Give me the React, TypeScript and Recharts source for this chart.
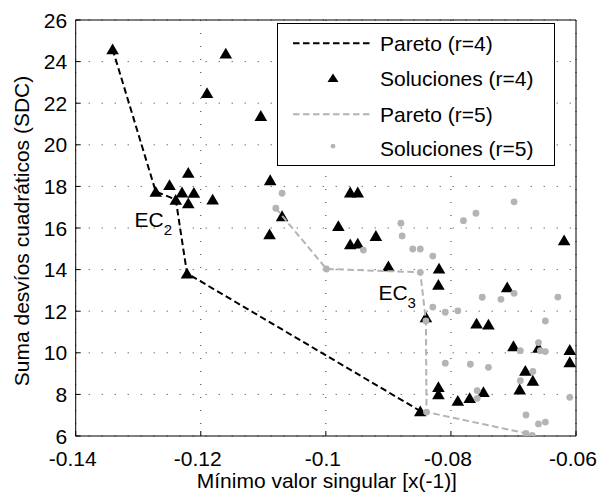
import React from 'react';
import { ScatterChart, Scatter, XAxis, YAxis, CartesianGrid, ReferenceDot } from 'recharts';

const FONT = "'Liberation Sans', Arial, Helvetica, sans-serif";

const xTicks = [-0.14, -0.12, -0.1, -0.08, -0.06];
const yTicks = [6, 8, 10, 12, 14, 16, 18, 20, 22, 24, 26];
const xLabel = 'Mínimo valor singular [x(-1)]';
const yLabel = 'Suma desvíos cuadráticos (SDC)';
const legendLabels = ['Pareto (r=4)', 'Soluciones (r=4)', 'Pareto (r=5)', 'Soluciones (r=5)'];

const paretoR4 = [
  { x: -0.1341, y: 24.6 },
  { x: -0.1272, y: 17.75 },
  { x: -0.124, y: 17.37 },
  { x: -0.1222, y: 13.82 },
  { x: -0.0849, y: 7.2 },
];

const solutionsR4 = [
  { x: -0.1341, y: 24.6 }, { x: -0.116, y: 24.4 }, { x: -0.119, y: 22.5 }, { x: -0.1104, y: 21.4 },
  { x: -0.122, y: 18.66 }, { x: -0.1272, y: 17.75 }, { x: -0.125, y: 18.08 }, { x: -0.123, y: 17.72 },
  { x: -0.1211, y: 17.7 }, { x: -0.124, y: 17.37 }, { x: -0.122, y: 17.2 }, { x: -0.1181, y: 17.38 },
  { x: -0.1222, y: 13.82 }, { x: -0.1089, y: 18.31 }, { x: -0.107, y: 16.58 }, { x: -0.109, y: 15.71 },
  { x: -0.0961, y: 17.72 }, { x: -0.0949, y: 17.72 }, { x: -0.098, y: 16.1 }, { x: -0.0961, y: 15.23 },
  { x: -0.0949, y: 15.26 }, { x: -0.092, y: 15.63 }, { x: -0.09, y: 14.17 }, { x: -0.0619, y: 15.42 },
  { x: -0.0819, y: 14.06 }, { x: -0.082, y: 13.28 }, { x: -0.071, y: 13.16 }, { x: -0.084, y: 11.72 },
  { x: -0.0759, y: 11.42 }, { x: -0.074, y: 11.37 }, { x: -0.07, y: 10.33 }, { x: -0.066, y: 10.25 },
  { x: -0.061, y: 10.15 }, { x: -0.061, y: 9.56 }, { x: -0.0681, y: 9.15 }, { x: -0.0669, y: 8.67 },
  { x: -0.069, y: 8.25 }, { x: -0.082, y: 8.36 }, { x: -0.082, y: 8.02 }, { x: -0.0748, y: 8.12 },
  { x: -0.077, y: 7.84 }, { x: -0.0789, y: 7.7 }, { x: -0.0849, y: 7.2 },
];

const paretoR5 = [
  { x: -0.108, y: 16.95 },
  { x: -0.0999, y: 14.03 },
  { x: -0.0849, y: 13.87 },
  { x: -0.084, y: 11.53 },
  { x: -0.0839, y: 7.15 },
  { x: -0.068, y: 6.13 },
];

const solutionsR5 = [
  { x: -0.107, y: 17.67 }, { x: -0.108, y: 16.95 }, { x: -0.094, y: 14.94 }, { x: -0.0999, y: 14.03 },
  { x: -0.088, y: 16.23 }, { x: -0.0878, y: 15.62 }, { x: -0.0861, y: 14.99 }, { x: -0.0849, y: 14.99 },
  { x: -0.0829, y: 14.65 }, { x: -0.0849, y: 13.87 }, { x: -0.0699, y: 17.26 }, { x: -0.076, y: 16.71 },
  { x: -0.078, y: 16.35 }, { x: -0.0699, y: 12.86 }, { x: -0.075, y: 12.67 }, { x: -0.072, y: 12.57 },
  { x: -0.0629, y: 12.68 }, { x: -0.0829, y: 12.2 }, { x: -0.0809, y: 11.95 }, { x: -0.0789, y: 12.02 },
  { x: -0.084, y: 11.53 }, { x: -0.0649, y: 11.53 }, { x: -0.0689, y: 10.1 }, { x: -0.066, y: 10.49 },
  { x: -0.0657, y: 10.1 }, { x: -0.0649, y: 10.06 }, { x: -0.0809, y: 9.5 }, { x: -0.0769, y: 9.45 },
  { x: -0.074, y: 9.3 }, { x: -0.0669, y: 9.1 }, { x: -0.0689, y: 8.66 }, { x: -0.0758, y: 8.18 },
  { x: -0.0758, y: 7.81 }, { x: -0.061, y: 7.86 }, { x: -0.0839, y: 7.15 }, { x: -0.068, y: 7.01 },
  { x: -0.066, y: 6.58 }, { x: -0.0649, y: 6.67 }, { x: -0.068, y: 6.13 }, { x: -0.067, y: 6.03 },
];

const annotations = [
  { x: -0.1306, y: 16.05, main: 'EC', sub: '2' },
  { x: -0.0916, y: 12.54, main: 'EC', sub: '3' },
];

const GRAY = '#b4b4b4';
const fmtX = (v: number) => String(Math.round(v * 100) / 100);

const Triangle = (props: any) => {
  const { cx, cy } = props;
  if (cx == null || cy == null) return <g />;
  return <path d={`M${cx},${cy - 5.6} L${cx + 6.3},${cy + 5.2} L${cx - 6.3},${cy + 5.2} Z`} fill="#000" />;
};

const Dot = (props: any) => {
  const { cx, cy } = props;
  if (cx == null || cy == null) return <g />;
  return <circle cx={cx} cy={cy} r={3.4} fill={GRAY} />;
};

const NoShape = () => <g />;

const BottomTick = (props: any) => {
  const { x, y, payload } = props;
  return (
    <text x={x - 3} y={y + 30} textAnchor="middle" fontSize={21} fontFamily={FONT} fill="#000">
      {fmtX(payload.value)}
    </text>
  );
};

const LeftTick = (props: any) => {
  const { x, y, payload } = props;
  return (
    <text x={x - 8.5} y={y + 7.5} textAnchor="end" fontSize={21} fontFamily={FONT} fill="#000">
      {payload.value}
    </text>
  );
};

const XLabel = (props: any) => {
  const vb = props.viewBox || {};
  return (
    <text x={vb.x + vb.width / 2 + 1} y={vb.y + 51.5} textAnchor="middle" fontSize={21} fontFamily={FONT} fill="#000">
      {xLabel}
    </text>
  );
};

const YLabel = (props: any) => {
  const vb = props.viewBox || {};
  const cx = vb.x + 13.5;
  const cy = vb.y + vb.height / 2 + 3;
  return (
    <text x={cx} y={cy} transform={`rotate(-90, ${cx}, ${cy})`} textAnchor="middle" fontSize={21} fontFamily={FONT} fill="#000">
      {yLabel}
    </text>
  );
};

const AnnotationLabel = (main: string, sub: string) => (props: any) => {
  const vb = props.viewBox || {};
  const x = vb.x + (vb.width || 0) / 2;
  const y = vb.y + (vb.height || 0) / 2;
  return (
    <text x={x} y={y} fontSize={21} fontFamily={FONT} fill="#000">
      {main}
      <tspan dy={8} fontSize={15}>{sub}</tspan>
    </text>
  );
};

const Legend = () => {
  const left = 277;
  const top = 23;
  const rows = [50.7, 86, 121.7, 155.7];
  return (
    <svg width={597} height={496} style={{ position: 'absolute', left: 0, top: 0, pointerEvents: 'none' }}>
      <rect x={left + 0.5} y={top + 0.5} width={277} height={142} fill="#fff" stroke="#000" strokeWidth={1} />
      <line x1={293} x2={373} y1={rows[0] - 7.5} y2={rows[0] - 7.5} stroke="#000" strokeWidth={2} strokeDasharray="6.5 3.5" />
      <path d={`M333,${rows[1] - 12.5} L338.5,${rows[1] - 4} L327.5,${rows[1] - 4} Z`} fill="#000" />
      <line x1={293} x2={373} y1={rows[2] - 7.5} y2={rows[2] - 7.5} stroke={GRAY} strokeWidth={2} strokeDasharray="6.5 3.5" />
      <circle cx={333} cy={rows[3] - 9.5} r={2.4} fill={GRAY} />
      {legendLabels.map((t, i) => (
        <text key={t} x={380} y={rows[i]} fontSize={21} fontFamily={FONT} fill="#000">
          {t}
        </text>
      ))}
    </svg>
  );
};

export default function App() {
  return (
    <div style={{ position: 'absolute', left: 0, top: 0, width: 597, height: 496, background: '#fff' }}>
      <ScatterChart width={597} height={496} margin={{ top: 19, right: 20, bottom: 20, left: 15.7 }}>
        <CartesianGrid stroke="#333" strokeDasharray="1 12" strokeWidth={1} />
        <XAxis
          type="number"
          dataKey="x"
          domain={[-0.14, -0.06]}
          ticks={xTicks}
          allowDataOverflow
          height={40}
          tickSize={-5}
          tickMargin={5}
          tick={<BottomTick />}
          axisLine={{ stroke: '#000' }}
          tickLine={{ stroke: '#000' }}
          label={<XLabel />}
        />
        <XAxis
          xAxisId="top"
          orientation="top"
          type="number"
          domain={[-0.14, -0.06]}
          ticks={xTicks}
          allowDataOverflow
          height={1}
          tickSize={-5}
          tick={false}
          axisLine={{ stroke: '#000' }}
          tickLine={{ stroke: '#000' }}
        />
        <YAxis
          type="number"
          dataKey="y"
          domain={[6, 26]}
          ticks={yTicks}
          allowDataOverflow
          width={60}
          tickSize={-5}
          tickMargin={5}
          tick={<LeftTick />}
          axisLine={{ stroke: '#000' }}
          tickLine={{ stroke: '#000' }}
          label={<YLabel />}
        />
        <YAxis
          yAxisId="right"
          orientation="right"
          type="number"
          domain={[6, 26]}
          ticks={yTicks}
          allowDataOverflow
          width={1}
          tickSize={-5}
          tick={false}
          axisLine={{ stroke: '#000' }}
          tickLine={{ stroke: '#000' }}
        />
        <Scatter
          data={paretoR4}
          fill="#000"
          line={{ stroke: '#000', strokeWidth: 2, strokeDasharray: '6.5 3.5' }}
          shape={<NoShape />}
          isAnimationActive={false}
        />
        <Scatter data={solutionsR4} fill="#000" shape={<Triangle />} isAnimationActive={false} />
        <Scatter
          data={paretoR5}
          fill={GRAY}
          line={{ stroke: GRAY, strokeWidth: 2, strokeDasharray: '6.5 3.5' }}
          shape={<NoShape />}
          isAnimationActive={false}
        />
        <Scatter data={solutionsR5} fill={GRAY} shape={<Dot />} isAnimationActive={false} />
        {annotations.map((a) => (
          <ReferenceDot
            key={a.sub}
            x={a.x}
            y={a.y}
            r={0}
            fill="none"
            stroke="none"
            ifOverflow="visible"
            label={AnnotationLabel(a.main, a.sub)}
          />
        ))}
      </ScatterChart>
      <Legend />
    </div>
  );
}
